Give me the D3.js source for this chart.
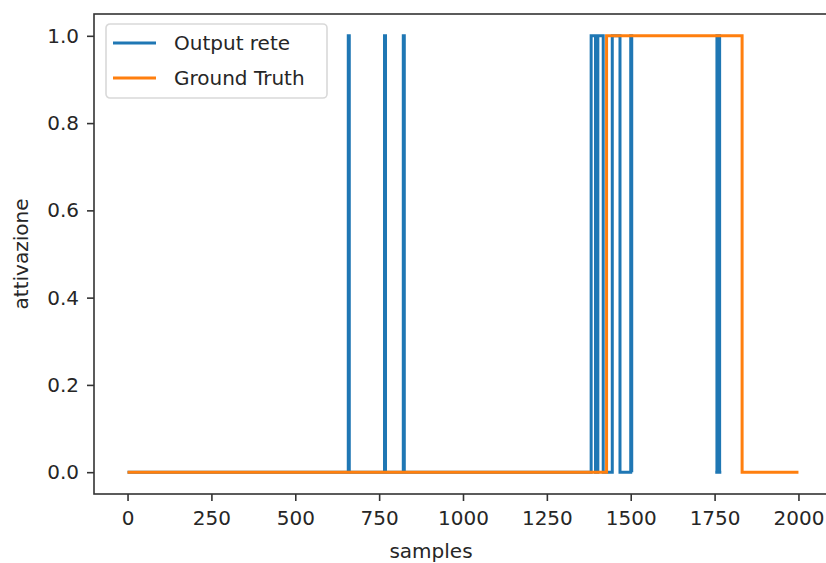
<!DOCTYPE html>
<html>
<head>
<meta charset="utf-8">
<script src="https://cdn.jsdelivr.net/npm/d3@7"></script>
<style>
  body { margin: 0; background: #fff; }
  #chart { width: 826px; height: 563px; }
  text { font-family: "DejaVu Sans", sans-serif; fill: #262626; }
</style>
</head>
<body>
<div id="chart"></div>
<script>
// series as change points (value holds until next sample, null = no line)
var outputSamples = [0, 658, 661, 766, 769, 822, 825, 1382, 1395, 1402, 1418, 1445, 1468, 1500, 1503, 1506, 1752, 1757, 1765, 1770];
var outputValues  = [0, 1,   0,   1,   0,   1,   0,   1,    0,    1,    0,    1,    0,    1,    0,    null, 0,    1,    0,    0];
var truthSamples = [0, 1428, 1832, 2000];
var truthValues  = [0, 1,    0,    0];

var xTicks = [0, 250, 500, 750, 1000, 1250, 1500, 1750, 2000];
var yTicks = [0.0, 0.2, 0.4, 0.6, 0.8, 1.0];
var seriesNames = ["Output rete", "Ground Truth"];
var seriesColors = ["#1f77b4", "#ff7f0e"];

var W = 826, H = 563;
var margin = { top: 14, right: -6, bottom: 69, left: 94 },
  width = W - margin.left - margin.right,
  height = H - margin.top - margin.bottom;

var svg = d3.select("#chart")
  .append("svg")
  .attr("width", W)
  .attr("height", H)
  .append("g")
  .attr("transform", "translate(" + margin.left + "," + margin.top + ")");

var x = d3.scaleLinear().domain([-100, 2100]).range([0, width]);
var y = d3.scaleLinear().domain([-0.05, 1.05]).range([height, 0]);

// axes
var xAxis = svg.append("g")
  .attr("transform", "translate(0," + height + ")")
  .call(d3.axisBottom(x).tickValues(xTicks).tickSize(7).tickPadding(10).tickFormat(d3.format("d")));
var yAxis = svg.append("g")
  .call(d3.axisLeft(y).tickValues(yTicks).tickSize(7).tickPadding(8).tickFormat(d3.format(".1f")));

[xAxis, yAxis].forEach(function(a) {
  a.select(".domain").remove();
  a.selectAll("line").attr("stroke", "#333").attr("stroke-width", 1.6);
  a.selectAll("text").style("font-size", "20px").style("font-family", "DejaVu Sans, sans-serif").attr("fill", "#262626");
});

// frame
svg.append("rect")
  .attr("x", 0).attr("y", 0)
  .attr("width", width).attr("height", height)
  .attr("fill", "none")
  .attr("stroke", "#333")
  .attr("stroke-width", 1.6);

// lines
var line = d3.line()
  .defined(function(d) { return d[1] !== null; })
  .x(function(d) { return x(d[0]); })
  .y(function(d) { return y(d[1]); })
  .curve(d3.curveStepAfter);

var outputData = outputSamples.map(function(s, i) { return [s, outputValues[i]]; });
var truthData = truthSamples.map(function(s, i) { return [s, truthValues[i]]; });

svg.append("path")
  .datum(outputData)
  .attr("d", line)
  .attr("fill", "none")
  .attr("stroke", seriesColors[0])
  .attr("stroke-width", 3);

svg.append("path")
  .datum(truthData)
  .attr("d", line)
  .attr("fill", "none")
  .attr("stroke", seriesColors[1])
  .attr("stroke-width", 3);

// axis labels
svg.append("text")
  .attr("x", width / 2 - 32)
  .attr("y", height + 64)
  .attr("text-anchor", "middle")
  .style("font-size", "20px")
  .text("samples");

svg.append("text")
  .attr("transform", "translate(" + (-66) + "," + (height / 2) + ") rotate(-90)")
  .attr("text-anchor", "middle")
  .style("font-size", "20px")
  .text("attivazione");

// legend
var legend = svg.append("g").attr("transform", "translate(12,10)");
legend.append("rect")
  .attr("width", 221).attr("height", 74)
  .attr("rx", 4).attr("ry", 4)
  .attr("fill", "#fff").attr("fill-opacity", 0.8)
  .attr("stroke", "#d9d9d9").attr("stroke-width", 1.6);

seriesNames.forEach(function(name, i) {
  var cy = 19 + i * 35;
  legend.append("line")
    .attr("x1", 7).attr("x2", 50)
    .attr("y1", cy).attr("y2", cy)
    .attr("stroke", seriesColors[i])
    .attr("stroke-width", 3);
  legend.append("text")
    .attr("x", 68).attr("y", cy)
    .attr("dy", "0.35em")
    .style("font-size", "20px")
    .text(name);
});
</script>
</body>
</html>
